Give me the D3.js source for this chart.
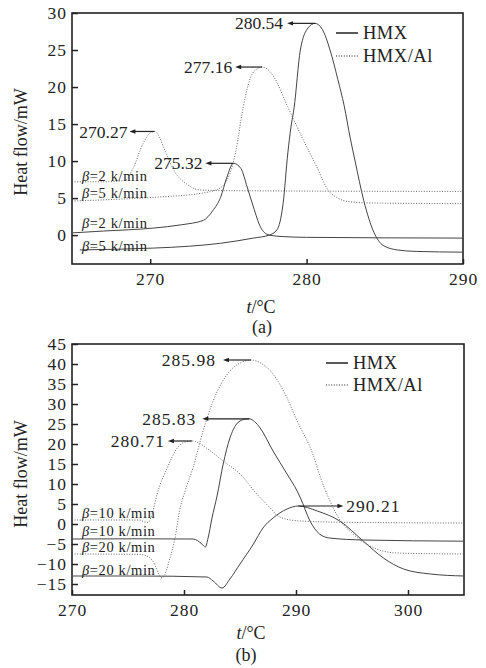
<!DOCTYPE html>
<html>
<head>
<meta charset="utf-8">
<script src="https://cdn.jsdelivr.net/npm/d3@7"></script>
<style>
  body { margin: 0; background: #fff; }
  svg text { font-family: "Liberation Serif", "Times New Roman", serif; fill: #222; }
</style>
</head>
<body>
<svg id="chart"></svg>
<script>
// ---- panel (a): heating rates 2 and 5 k/min, [t (°C), heat flow (mW)]
const hmxA2 = [[265,0.3],[267,0.55],[270.2,0.95],[272,1.4],[273.4,2.0],[274,3.3],[274.5,5.1],[274.9,7.8],
  [275.32,9.7],[275.8,9.0],[276.2,6.5],[276.6,3.8],[277.05,1.1],[277.6,0],[278.5,-0.2],[280,-0.3],[290,-0.4]];
const hmxA5 = [[265.5,-2.0],[268,-1.9],[270.2,-1.75],[272.5,-1.5],[274.5,-1.1],[276.6,-0.4],[277.6,0],[278.1,0.7],
  [278.5,4.3],[278.8,11.1],[279.0,14.6],[279.2,17.2],[279.6,25],[280.1,28.0],[280.54,28.6],[281.0,27.8],[281.5,25],
  [282.0,21],[282.4,17.5],[282.8,13],[283.1,10],[283.65,4.7],[284.3,0.4],[284.9,-1.4],[285.8,-2.0],[287,-2.2],[290,-2.3]];
const alA2 = [[265,7.2],[267,7.2],[268.4,7.4],[268.9,9.0],[269.55,12.4],[270.0,13.8],[270.27,14.0],[270.5,13.6],
  [270.85,11.9],[271.5,8.8],[272.4,6.8],[273.2,6.1],[275,6.0],[290,5.9]];
const alA5 = [[265,4.6],[268,4.85],[270.2,5.1],[273.4,5.7],[274.5,6.4],[274.9,7.4],[275.3,9.7],[275.6,12.8],
  [275.8,15.5],[276.4,21.2],[276.8,22.4],[277.16,22.7],[277.5,22.4],[277.9,21.4],[278.8,17.3],[279.8,12.8],
  [280.7,9.0],[281.3,6.3],[282,5.0],[282.8,4.5],[284,4.35],[290,4.25]];
const peaksA = [[270.27,14.0],[275.32,9.7],[277.16,22.7],[280.54,28.6]];
const ratesA = ['2','5','2','5'];
const xTicksA = [270,280,290];
const yTicksA = [0,5,10,15,20,25,30];

// ---- panel (b): heating rates 10 and 20 k/min
const hmxB10 = [[270,-3.75],[276,-3.7],[280.8,-3.75],[281.6,-5.0],[281.9,-5.75],[282.15,-3.5],[282.5,1.5],
  [282.95,7],[283.5,15],[284.1,21.5],[284.7,25],[285.3,26.1],[285.83,26.3],[286.3,25.6],[286.8,24],[287.95,18.25],
  [289.2,12.5],[290.1,8.25],[290.4,6.5],[291.25,0.75],[292.1,-2.5],[293,-3.5],[296,-4],[305,-4.3]];
const hmxB20 = [[270,-13],[276,-13],[282.05,-13.25],[282.6,-14.25],[283.4,-16],[284.1,-13.75],[285,-10],
  [286.2,-5],[287.05,-1],[287.95,1.5],[289.2,3.75],[290.21,4.5],[291.9,3.25],[293.9,0.75],[296,-4.25],
  [297.8,-8.5],[299.6,-11.25],[302,-12.5],[305,-13]];
const alB10 = [[270,1],[276,1.0],[276.5,0.5],[276.8,0.4],[277.2,3],[277.6,7.5],[278.5,14],[279.4,19],[280.0,20.4],
  [280.71,20.75],[281.3,20.3],[282,19],[283.5,15.75],[285,12.5],[286.5,7.5],[287.7,4],[288.3,2.2],[289,1.3],
  [290.4,0.75],[295,0.4],[305,0.25]];
const alB20 = [[270,-7.5],[276,-7.6],[276.7,-8],[277.2,-9.25],[278.05,-13.5],[278.75,-8.5],[279.2,-3.5],
  [279.6,3.25],[280.1,8.25],[280.8,14],[281.7,23.25],[282.6,30.75],[284.1,38.25],[285.2,40.5],[285.98,41],
  [286.8,40.3],[287.95,37.5],[289.2,31.5],[290.1,25.75],[291.5,17.5],[292.2,11.5],[293,6],[293.7,2],
  [295.1,-2.5],[296.6,-5.5],[299,-7.25],[305,-7.5]];
const peaksB = [[285.98,41],[285.83,26.3],[280.71,20.75],[290.21,4.5]];
const ratesB = ['10','10','20','20'];
const xTicksB = [270,280,290,300];
const yTicksB = [-15,-10,-5,0,5,10,15,20,25,30,35,40,45];

const seriesNames = ['HMX','HMX/Al'];

const svg = d3.select('#chart').attr('width', 486).attr('height', 668);

const panels = [
  {
    xDom: [265,290], yDom: [-3.9,30], l: 72, r: 463, t: 13, b: 264,
    xTicks: xTicksA, yTicks: yTicksA,
    curves: [{d: hmxA2, dot: false}, {d: hmxA5, dot: false}, {d: alA2, dot: true}, {d: alA5, dot: true}],
    peaks: peaksA, arrow: [-25,-28,-27,-28], gap: [2,3,3,4], spacing: 0,
    rates: ratesA, rateY: [181,198,228,251],
    legend: {x: 336, y: 33, dy: 23},
    yTitle: {x: 27, y: 142}, xTitle: {x: 261, y: 313}, tag: {text: '(a)', x: 262, y: 333}
  },
  {
    xDom: [270,305], yDom: [-17.75,45], l: 72, r: 464, t: 344, b: 595,
    xTicks: xTicksB, yTicks: yTicksB,
    curves: [{d: hmxB10, dot: false}, {d: hmxB20, dot: false}, {d: alB10, dot: true}, {d: alB20, dot: true}],
    peaks: peaksB, arrow: [-28,-47,-24,45], gap: [7,6,3,3], spacing: 1,
    rates: ratesB, rateY: [518,536,552,575],
    legend: {x: 326, y: 363, dy: 22},
    yTitle: {x: 27, y: 474}, xTitle: {x: 251, y: 639}, tag: {text: '(b)', x: 246, y: 661}
  }
];

const fmt = d => d < 0 ? '\u2212' + Math.abs(d) : String(d);

panels.forEach(p => {
  const x = d3.scaleLinear().domain(p.xDom).range([p.l, p.r]);
  const y = d3.scaleLinear().domain(p.yDom).range([p.b, p.t]);
  const g = svg.append('g');

  // axes with inward ticks
  const ax = g.append('g').attr('transform', `translate(0,${p.b})`)
    .call(d3.axisBottom(x).tickValues(p.xTicks).tickSizeInner(-5).tickSizeOuter(0).tickPadding(9).tickFormat(fmt));
  const ay = g.append('g').attr('transform', `translate(${p.l},0)`)
    .call(d3.axisLeft(y).tickValues(p.yTicks).tickSizeInner(-6).tickSizeOuter(0).tickPadding(5).tickFormat(fmt));
  [ax, ay].forEach(a => {
    a.attr('font-family', null).attr('font-size', null);
    a.select('.domain').remove();
    a.selectAll('line').attr('stroke', '#222').attr('stroke-width', 1.5);
    a.selectAll('text').attr('font-size', 17.5).attr('letter-spacing', 1).attr('fill', '#222');
  });

  g.append('rect')
    .attr('x', p.l).attr('y', p.t).attr('width', p.r - p.l).attr('height', p.b - p.t)
    .attr('fill', 'none').attr('stroke', '#222').attr('stroke-width', 1.6);

  const line = d3.line().x(d => x(d[0])).y(d => y(d[1])).curve(d3.curveMonotoneX);
  p.curves.forEach(c => {
    g.append('path').datum(c.d).attr('d', line)
      .attr('fill', 'none')
      .attr('stroke', c.dot ? '#555' : '#444')
      .attr('stroke-width', c.dot ? 0.9 : 1)
      .attr('stroke-dasharray', c.dot ? '1,1.6' : null);
  });

  // peak annotations with arrows
  p.peaks.forEach((pk, i) => {
    const px = x(pk[0]), py = y(pk[1]);
    const ex = px + p.arrow[i];
    const dir = Math.sign(p.arrow[i]);
    g.append('line').attr('x1', px).attr('y1', py).attr('x2', ex - dir * 4).attr('y2', py)
      .attr('stroke', '#222').attr('stroke-width', 1.2);
    g.append('path')
      .attr('d', `M${ex},${py}L${ex - dir * 6},${py - 2.2}L${ex - dir * 6},${py + 2.2}Z`)
      .attr('fill', '#222');
    g.append('text')
      .attr('x', ex + dir * p.gap[i]).attr('y', py).attr('dy', '0.35em')
      .attr('text-anchor', dir < 0 ? 'end' : 'start')
      .attr('font-size', 17.5).attr('letter-spacing', p.spacing)
      .text(pk[0].toFixed(2));
  });

  // heating-rate labels
  p.rates.forEach((r, i) => {
    const t = g.append('text').attr('x', 82).attr('y', p.rateY[i])
      .attr('font-size', 14.5).attr('letter-spacing', 0.6);
    t.append('tspan').attr('font-style', 'italic').text('\u03b2');
    t.append('tspan').text(`=${r} k/min`);
  });

  // legend
  seriesNames.forEach((n, i) => {
    const ly = p.legend.y + i * p.legend.dy;
    g.append('line').attr('x1', p.legend.x).attr('x2', p.legend.x + 22).attr('y1', ly).attr('y2', ly)
      .attr('stroke', '#222').attr('stroke-width', i ? 1 : 1.5)
      .attr('stroke-dasharray', i ? '1,1.6' : null);
    g.append('text').attr('x', p.legend.x + 27).attr('y', ly).attr('dy', '0.35em')
      .attr('font-size', 18.5).attr('letter-spacing', 0.5).text(n);
  });

  // titles
  g.append('text')
    .attr('transform', `translate(${p.yTitle.x},${p.yTitle.y}) rotate(-90)`)
    .attr('text-anchor', 'middle').attr('font-size', 18).text('Heat  flow/mW');
  const xt = g.append('text').attr('x', p.xTitle.x).attr('y', p.xTitle.y)
    .attr('text-anchor', 'middle').attr('font-size', 18);
  xt.append('tspan').attr('font-style', 'italic').text('t');
  xt.append('tspan').text('/\u00b0C');
  g.append('text').attr('x', p.tag.x).attr('y', p.tag.y)
    .attr('text-anchor', 'middle').attr('font-size', 18).text(p.tag.text);
});
</script>
</body>
</html>
